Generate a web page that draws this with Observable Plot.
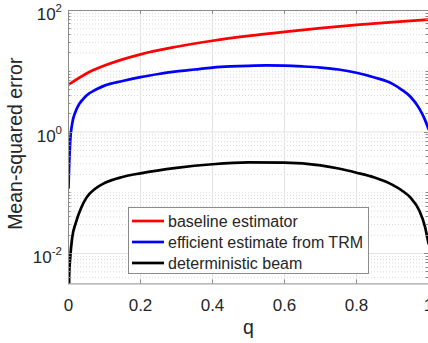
<!DOCTYPE html>
<html>
<head>
<meta charset="utf-8">
<script src="https://cdn.jsdelivr.net/npm/d3@7"></script>
<script src="https://cdn.jsdelivr.net/npm/@observablehq/plot@0.6"></script>
<style>
  html, body { margin: 0; padding: 0; background: #fff; }
  svg { display: block; }
</style>
</head>
<body>
<div id="chart"></div>
<script>
// ---- data ----
const seriesNames = ["baseline estimator", "efficient estimate from TRM", "deterministic beam"];
const seriesColors = ["#ff0000", "#0000ff", "#000000"];

const qBaseline   = [0, 0.05, 0.1, 0.2, 0.3, 0.4, 0.5, 0.6, 0.7, 0.8, 0.9, 1.0];
const mseBaseline = [6.0, 9.2, 12.4, 19.0, 25.3, 31.8, 38.2, 44.6, 51.3, 58.0, 64.5, 71.0];

const qEfficient   = [0, 0.002, 0.005, 0.01, 0.02, 0.03, 0.04, 0.05, 0.075, 0.1, 0.15, 0.2, 0.25, 0.3, 0.35, 0.4, 0.45, 0.5, 0.55, 0.6, 0.65, 0.7, 0.75, 0.8, 0.85, 0.9, 0.925, 0.95, 0.975, 0.99, 1.0];
const mseEfficient = [0.12, 0.3, 0.75, 1.35, 2.2, 2.9, 3.45, 4.0, 4.95, 5.8, 6.9, 8.0, 9.0, 9.95, 10.7, 11.5, 12.0, 12.3, 12.45, 12.35, 12.0, 11.5, 10.7, 9.45, 7.9, 6.2, 5.0, 3.8, 2.4, 1.6, 1.12];

const qDeterministic   = [0, 0.002, 0.005, 0.01, 0.02, 0.035, 0.05, 0.075, 0.1, 0.15, 0.2, 0.3, 0.4, 0.5, 0.6, 0.7, 0.75, 0.8, 0.85, 0.9, 0.925, 0.95, 0.975, 0.99, 1.0];
const mseDeterministic = [0.001, 0.0045, 0.0089, 0.0178, 0.0316, 0.0562, 0.0832, 0.1175, 0.1445, 0.182, 0.209, 0.257, 0.295, 0.316, 0.313, 0.282, 0.251, 0.214, 0.178, 0.135, 0.11, 0.083, 0.05, 0.028, 0.0146];

const xTicks = [0, 0.2, 0.4, 0.6, 0.8, 1];
const xTickLabels = ["0", "0.2", "0.4", "0.6", "0.8", "1"];
const yTicks = [0.01, 1, 100];
const yTickExponents = ["-2", "0", "2"];
const yDomain = [Math.pow(10, -2.5), 100];
const xLabel = "q";
const yLabel = "Mean-squared error";

// ---- build table ----
const rows = [];
[[qBaseline, mseBaseline], [qEfficient, mseEfficient], [qDeterministic, mseDeterministic]].forEach(([qs, vs], i) => {
  qs.forEach((q, j) => rows.push({series: seriesNames[i], q, mse: vs[j]}));
});

// minor grid values: 2..10 x each decade, excluding labelled ticks
const minorY = [];
for (let d = -3; d <= 1; d++) {
  for (let k = 2; k <= 10; k++) {
    const v = k * Math.pow(10, d);
    if (v > yDomain[0] && v < yDomain[1] && !yTicks.some(t => Math.abs(t - v) / t < 1e-9)) minorY.push(v);
  }
}

const FONT = "'Liberation Sans', Arial, Helvetica, sans-serif";
const TXT = "#262626";
const AX = "#8c8c8c";

const plot = Plot.plot({
  width: 428,
  height: 343,
  marginLeft: 68,
  marginRight: 0,
  marginTop: 10,
  marginBottom: 59.6,
  style: {fontFamily: FONT, background: "#fff", color: TXT},
  x: {domain: [0, 1], label: null},
  y: {type: "log", domain: yDomain, label: null, axis: null},
  color: {domain: seriesNames, range: seriesColors},
  marks: [
    Plot.ruleY(minorY, {stroke: "#cfcfcf", strokeDasharray: "1,2", strokeWidth: 0.8}),
    Plot.ruleY(yTicks, {stroke: "#e2e2e2", strokeWidth: 1}),
    Plot.ruleX(xTicks, {stroke: "#e2e2e2", strokeWidth: 1}),
    Plot.line(rows, {x: "q", y: "mse", z: "series", stroke: "series", strokeWidth: 2.7, curve: "monotone-x", clip: true}),
    Plot.frame({stroke: AX, strokeWidth: 1}),
    Plot.axisX({ticks: xTicks, tickFormat: d => xTickLabels[xTicks.indexOf(d)], tickSize: 0, tickPadding: 15, fontSize: 17, fill: TXT}),
    Plot.text([xLabel], {frameAnchor: "bottom", dy: 50, fontSize: 19.5, fill: TXT})
  ]
});

document.getElementById("chart").appendChild(plot);

// ---- ticks (inward), y tick labels with superscripts, y label, legend ----
const svg = d3.select(plot);
const xs = plot.scale("x"), ys = plot.scale("y");
const L = xs.apply(0), R = xs.apply(1), T = ys.apply(yDomain[1]), B = ys.apply(yDomain[0]);
const tg = svg.append("g").attr("stroke", AX).attr("stroke-width", 1);
xTicks.slice(1, -1).forEach(t => {
  const X = Math.round(xs.apply(t)) + 0.5;
  tg.append("line").attr("x1", X).attr("x2", X).attr("y1", B).attr("y2", B - 4);
  tg.append("line").attr("x1", X).attr("x2", X).attr("y1", T).attr("y2", T + 4);
});
yTicks.forEach(t => {
  const Y = Math.round(ys.apply(t)) + 0.5;
  tg.append("line").attr("x1", L).attr("x2", L + 4).attr("y1", Y).attr("y2", Y);
  tg.append("line").attr("x1", R).attr("x2", R - 4).attr("y1", Y).attr("y2", Y);
});
minorY.forEach(t => {
  const Y = Math.round(ys.apply(t)) + 0.5;
  tg.append("line").attr("x1", L).attr("x2", L + 2.5).attr("y1", Y).attr("y2", Y);
  tg.append("line").attr("x1", R).attr("x2", R - 2.5).attr("y1", Y).attr("y2", Y);
});

const lg = svg.append("g").attr("font-family", FONT).attr("fill", TXT);
yTicks.forEach((t, i) => {
  const Y = ys.apply(t);
  const txt = lg.append("text").attr("x", L - 6).attr("y", Y + 10).attr("text-anchor", "end");
  txt.append("tspan").attr("font-size", 17).text("10");
  txt.append("tspan").attr("font-size", 11.5).attr("dy", -8).text(yTickExponents[i]);
});
lg.append("text")
  .attr("transform", `translate(22,${(T + B) / 2 - 3}) rotate(-90)`)
  .attr("text-anchor", "middle").attr("font-size", 19.5).text(yLabel);

// legend box inside the axes
const leg = svg.append("g").attr("font-family", FONT);
leg.append("rect").attr("x", 128.5).attr("y", 207.5).attr("width", 240).attr("height", 66)
  .attr("fill", "#fff").attr("stroke", AX).attr("stroke-width", 1);
seriesNames.forEach((name, i) => {
  const Y = 221 + i * 21;
  leg.append("line").attr("x1", 132).attr("x2", 164).attr("y1", Y).attr("y2", Y)
    .attr("stroke", seriesColors[i]).attr("stroke-width", 2.7);
  leg.append("text").attr("x", 168).attr("y", Y).attr("dy", "0.35em")
    .attr("text-anchor", "start").attr("font-size", 16).attr("fill", TXT).text(name);
});
</script>
</body>
</html>
